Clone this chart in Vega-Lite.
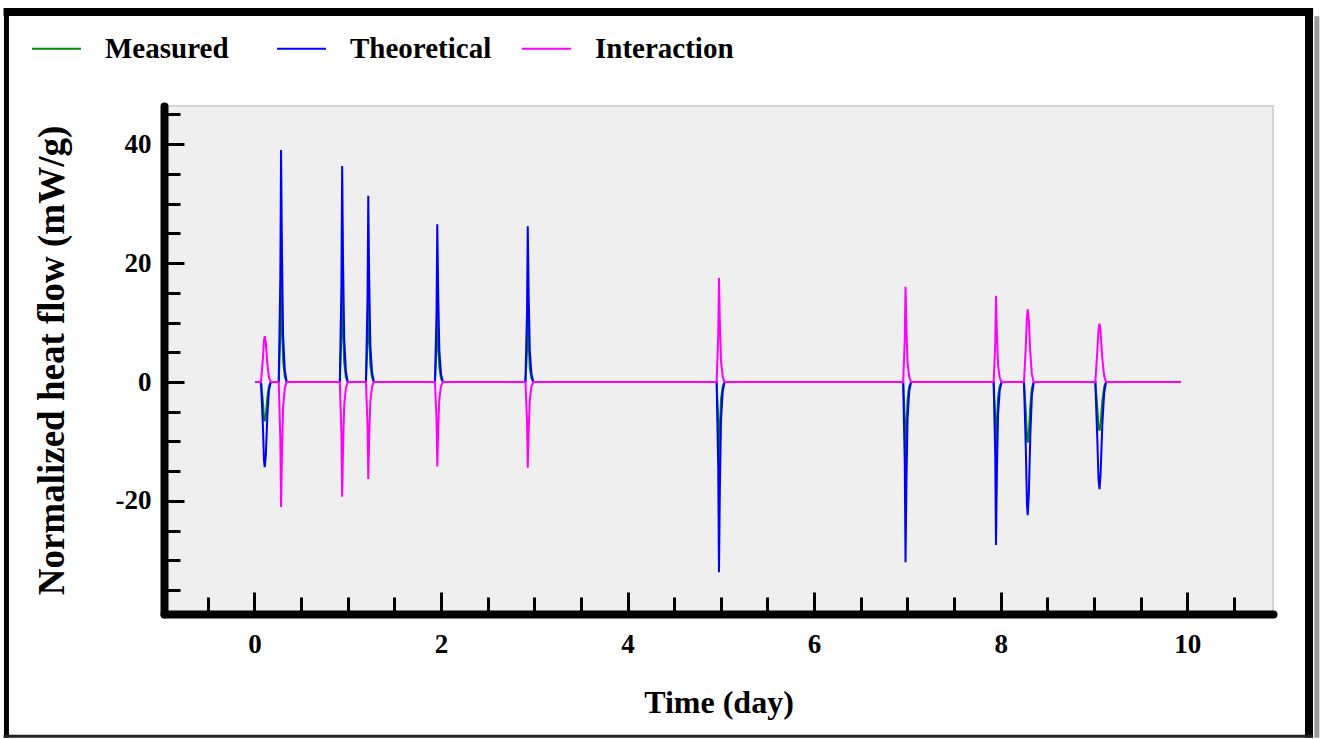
{
  "$schema": "https://vega.github.io/schema/vega-lite/v6.json",
  "width": 1109,
  "height": 508,
  "autosize": {"type": "none"},
  "padding": {"left": 164, "top": 106, "right": 49, "bottom": 125},
  "background": "white",
  "config": {
    "view": {"fill": "#efefef", "stroke": "#d4d4d4", "strokeWidth": 2},
    "font": "Liberation Serif"
  },
  "datasets": {
    "curves": [
      {"t": 0.01, "Measured": 0, "Theoretical": 0, "Interaction": 0},
      {"t": 0.07, "Measured": 0, "Theoretical": 0, "Interaction": 0},
      {"t": 0.09, "Measured": -3.3, "Theoretical": -7.2, "Interaction": 3.9},
      {"t": 0.102, "Measured": -6.1, "Theoretical": -13.2, "Interaction": 7.1},
      {"t": 0.11, "Measured": -6.6, "Theoretical": -14.3, "Interaction": 7.7},
      {"t": 0.122, "Measured": -5.6, "Theoretical": -12.2, "Interaction": 6.5},
      {"t": 0.138, "Measured": -2.6, "Theoretical": -5.7, "Interaction": 3.1},
      {"t": 0.155, "Measured": -0.7, "Theoretical": -1.4, "Interaction": 0.8},
      {"t": 0.175, "Measured": 0, "Theoretical": 0, "Interaction": 0},
      {"t": 0.26, "Measured": 0, "Theoretical": 0, "Interaction": 0},
      {"t": 0.277, "Measured": 8.1, "Theoretical": 17.6, "Interaction": -9.5},
      {"t": 0.285, "Measured": 18.0, "Theoretical": 39.0, "Interaction": -21.0},
      {"t": 0.295, "Measured": 9.9, "Theoretical": 21.5, "Interaction": -11.6},
      {"t": 0.307, "Measured": 3.6, "Theoretical": 7.8, "Interaction": -4.2},
      {"t": 0.325, "Measured": 0.9, "Theoretical": 2.0, "Interaction": -1.1},
      {"t": 0.345, "Measured": 0, "Theoretical": 0, "Interaction": 0},
      {"t": 0.915, "Measured": 0, "Theoretical": 0, "Interaction": 0},
      {"t": 0.932, "Measured": 7.6, "Theoretical": 16.3, "Interaction": -8.7},
      {"t": 0.94, "Measured": 17.0, "Theoretical": 36.3, "Interaction": -19.3},
      {"t": 0.95, "Measured": 9.4, "Theoretical": 20.0, "Interaction": -10.6},
      {"t": 0.962, "Measured": 3.4, "Theoretical": 7.3, "Interaction": -3.9},
      {"t": 0.98, "Measured": 0.8, "Theoretical": 1.8, "Interaction": -1.0},
      {"t": 1.0, "Measured": 0, "Theoretical": 0, "Interaction": 0},
      {"t": 1.195, "Measured": 0, "Theoretical": 0, "Interaction": 0},
      {"t": 1.212, "Measured": 6.8, "Theoretical": 14.1, "Interaction": -7.3},
      {"t": 1.22, "Measured": 15.0, "Theoretical": 31.3, "Interaction": -16.3},
      {"t": 1.23, "Measured": 8.2, "Theoretical": 17.2, "Interaction": -9.0},
      {"t": 1.242, "Measured": 3.0, "Theoretical": 6.3, "Interaction": -3.3},
      {"t": 1.26, "Measured": 0.8, "Theoretical": 1.6, "Interaction": -0.8},
      {"t": 1.28, "Measured": 0, "Theoretical": 0, "Interaction": 0},
      {"t": 1.935, "Measured": 0, "Theoretical": 0, "Interaction": 0},
      {"t": 1.952, "Measured": 5.5, "Theoretical": 11.9, "Interaction": -6.4},
      {"t": 1.96, "Measured": 12.3, "Theoretical": 26.5, "Interaction": -14.2},
      {"t": 1.97, "Measured": 6.8, "Theoretical": 14.6, "Interaction": -7.8},
      {"t": 1.982, "Measured": 2.5, "Theoretical": 5.3, "Interaction": -2.8},
      {"t": 2.0, "Measured": 0.6, "Theoretical": 1.3, "Interaction": -0.7},
      {"t": 2.02, "Measured": 0, "Theoretical": 0, "Interaction": 0},
      {"t": 2.905, "Measured": 0, "Theoretical": 0, "Interaction": 0},
      {"t": 2.922, "Measured": 5.3, "Theoretical": 11.8, "Interaction": -6.5},
      {"t": 2.93, "Measured": 11.8, "Theoretical": 26.2, "Interaction": -14.4},
      {"t": 2.94, "Measured": 6.5, "Theoretical": 14.4, "Interaction": -7.9},
      {"t": 2.952, "Measured": 2.3, "Theoretical": 5.2, "Interaction": -2.9},
      {"t": 2.97, "Measured": 0.6, "Theoretical": 1.3, "Interaction": -0.7},
      {"t": 2.99, "Measured": 0, "Theoretical": 0, "Interaction": 0},
      {"t": 4.955, "Measured": 0, "Theoretical": 0, "Interaction": 0},
      {"t": 4.972, "Measured": -6.5, "Theoretical": -14.4, "Interaction": 7.9},
      {"t": 4.98, "Measured": -14.5, "Theoretical": -32.0, "Interaction": 17.5},
      {"t": 4.99, "Measured": -8.0, "Theoretical": -17.6, "Interaction": 9.6},
      {"t": 5.002, "Measured": -2.9, "Theoretical": -6.4, "Interaction": 3.5},
      {"t": 5.02, "Measured": -0.7, "Theoretical": -1.6, "Interaction": 0.9},
      {"t": 5.04, "Measured": 0, "Theoretical": 0, "Interaction": 0},
      {"t": 6.955, "Measured": 0, "Theoretical": 0, "Interaction": 0},
      {"t": 6.972, "Measured": -6.4, "Theoretical": -13.6, "Interaction": 7.2},
      {"t": 6.98, "Measured": -14.3, "Theoretical": -30.3, "Interaction": 16.0},
      {"t": 6.99, "Measured": -7.9, "Theoretical": -16.7, "Interaction": 8.8},
      {"t": 7.002, "Measured": -2.9, "Theoretical": -6.1, "Interaction": 3.2},
      {"t": 7.02, "Measured": -0.7, "Theoretical": -1.5, "Interaction": 0.8},
      {"t": 7.04, "Measured": 0, "Theoretical": 0, "Interaction": 0},
      {"t": 7.925, "Measured": 0, "Theoretical": 0, "Interaction": 0},
      {"t": 7.942, "Measured": -5.8, "Theoretical": -12.3, "Interaction": 6.5},
      {"t": 7.95, "Measured": -12.9, "Theoretical": -27.4, "Interaction": 14.5},
      {"t": 7.96, "Measured": -7.1, "Theoretical": -15.1, "Interaction": 8.0},
      {"t": 7.972, "Measured": -2.6, "Theoretical": -5.5, "Interaction": 2.9},
      {"t": 7.99, "Measured": -0.7, "Theoretical": -1.4, "Interaction": 0.7},
      {"t": 8.01, "Measured": 0, "Theoretical": 0, "Interaction": 0},
      {"t": 8.25, "Measured": 0, "Theoretical": 0, "Interaction": 0},
      {"t": 8.27, "Measured": -5.1, "Theoretical": -11.2, "Interaction": 6.1},
      {"t": 8.282, "Measured": -9.4, "Theoretical": -20.6, "Interaction": 11.2},
      {"t": 8.29, "Measured": -10.2, "Theoretical": -22.4, "Interaction": 12.2},
      {"t": 8.302, "Measured": -8.6, "Theoretical": -19.0, "Interaction": 10.4},
      {"t": 8.318, "Measured": -4.1, "Theoretical": -9.0, "Interaction": 4.9},
      {"t": 8.335, "Measured": -1.0, "Theoretical": -2.2, "Interaction": 1.2},
      {"t": 8.355, "Measured": 0, "Theoretical": 0, "Interaction": 0},
      {"t": 9.015, "Measured": 0, "Theoretical": 0, "Interaction": 0},
      {"t": 9.035, "Measured": -4.1, "Theoretical": -9.0, "Interaction": 4.9},
      {"t": 9.05, "Measured": -7.6, "Theoretical": -16.6, "Interaction": 9.0},
      {"t": 9.06, "Measured": -8.2, "Theoretical": -18.0, "Interaction": 9.8},
      {"t": 9.072, "Measured": -7.0, "Theoretical": -15.3, "Interaction": 8.3},
      {"t": 9.09, "Measured": -3.3, "Theoretical": -7.2, "Interaction": 3.9},
      {"t": 9.11, "Measured": -0.8, "Theoretical": -1.8, "Interaction": 1.0},
      {"t": 9.13, "Measured": 0, "Theoretical": 0, "Interaction": 0},
      {"t": 9.93, "Measured": 0, "Theoretical": 0, "Interaction": 0}
    ]
  },
  "layer": [
    {
      "data": {"name": "curves"},
      "transform": [
        {"fold": ["Measured", "Theoretical", "Interaction"], "as": ["series", "value"]},
        {"filter": "datum.series === 'Measured'"}
      ],
      "mark": {"type": "line", "strokeWidth": 2},
      "encoding": {
        "x": {
          "field": "t", "type": "quantitative",
          "scale": {"domain": [-0.97, 10.92], "nice": false, "zero": false},
          "axis": {
            "title": "Time (day)",
            "values": [-0.5, 0, 0.5, 1, 1.5, 2, 2.5, 3, 3.5, 4, 4.5, 5, 5.5, 6, 6.5, 7, 7.5, 8, 8.5, 9, 9.5, 10, 10.5],
            "tickCount": 200,
            "labelExpr": "datum.value % 2 === 0 ? '' + datum.value : ''",
            "tickSize": {"condition": {"test": "datum.value % 2 === 0", "value": -22}, "value": -17},
            "tickWidth": 3,
            "tickColor": "black",
            "domainColor": "black",
            "domainWidth": 8,
            "domainCap": "round",
            "grid": false,
            "labelFont": "Liberation Serif",
            "labelFontWeight": "bold",
            "labelFontSize": 27,
            "labelColor": "black",
            "labelPadding": 39,
            "labelOverlap": false,
            "labelFlush": false,
            "labelBound": false,
            "titleFont": "Liberation Serif",
            "titleFontWeight": "bold",
            "titleFontSize": 32,
            "titleColor": "black",
            "titlePadding": 25
          }
        },
        "y": {
          "field": "value", "type": "quantitative",
          "scale": {"domain": [-39, 46.4], "nice": false, "zero": false},
          "axis": {
            "title": "Normalized heat flow (mW/g)",
            "values": [-35, -30, -25, -20, -15, -10, -5, 0, 5, 10, 15, 20, 25, 30, 35, 40, 45],
            "tickCount": 200,
            "labelExpr": "datum.value % 20 === 0 ? '' + datum.value : ''",
            "tickSize": {"condition": {"test": "datum.value % 20 === 0", "value": -20}, "value": -16},
            "tickWidth": 3,
            "tickColor": "black",
            "domainColor": "black",
            "domainWidth": 8,
            "domainCap": "round",
            "grid": false,
            "labelFont": "Liberation Serif",
            "labelFontWeight": "bold",
            "labelFontSize": 27,
            "labelColor": "black",
            "labelPadding": 33,
            "labelOverlap": false,
            "labelFlush": false,
            "labelBound": false,
            "titleFont": "Liberation Serif",
            "titleFontWeight": "bold",
            "titleFontSize": 37,
            "titleColor": "black",
            "titlePadding": 44
          }
        },
        "color": {
          "field": "series", "type": "nominal",
          "scale": {"domain": ["Measured", "Theoretical", "Interaction"], "range": ["#008a00", "#0000ff", "#ff00ff"]},
          "legend": {
            "orient": "none",
            "legendX": -133,
            "legendY": -83,
            "direction": "horizontal",
            "columns": 3,
            "gridAlign": "all",
            "title": null,
            "padding": 0,
            "symbolType": "stroke",
            "symbolSize": 2401,
            "symbolStrokeWidth": 2,
            "labelOffset": 23,
            "columnPadding": 26,
            "labelFont": "Liberation Serif",
            "labelFontWeight": "bold",
            "labelFontSize": 29,
            "labelColor": "black",
            "labelLimit": 400
          }
        }
      }
    },
    {
      "data": {"name": "curves"},
      "transform": [
        {"fold": ["Measured", "Theoretical", "Interaction"], "as": ["series", "value"]},
        {"filter": "datum.series === 'Theoretical'"}
      ],
      "mark": {"type": "line", "strokeWidth": 2},
      "encoding": {
        "x": {"field": "t", "type": "quantitative", "scale": {"domain": [-0.97, 10.92], "nice": false, "zero": false}},
        "y": {"field": "value", "type": "quantitative", "scale": {"domain": [-39, 46.4], "nice": false, "zero": false}},
        "color": {"field": "series", "type": "nominal", "scale": {"domain": ["Measured", "Theoretical", "Interaction"], "range": ["#008a00", "#0000ff", "#ff00ff"]}}
      }
    },
    {
      "data": {"name": "curves"},
      "transform": [
        {"fold": ["Measured", "Theoretical", "Interaction"], "as": ["series", "value"]},
        {"filter": "datum.series === 'Interaction'"}
      ],
      "mark": {"type": "line", "strokeWidth": 2},
      "encoding": {
        "x": {"field": "t", "type": "quantitative", "scale": {"domain": [-0.97, 10.92], "nice": false, "zero": false}},
        "y": {"field": "value", "type": "quantitative", "scale": {"domain": [-39, 46.4], "nice": false, "zero": false}},
        "color": {"field": "series", "type": "nominal", "scale": {"domain": ["Measured", "Theoretical", "Interaction"], "range": ["#008a00", "#0000ff", "#ff00ff"]}}
      }
    },
    {
      "data": {"values": [{}]},
      "mark": {"type": "rule", "color": "black", "strokeWidth": 8, "clip": false},
      "encoding": {
        "x": {"datum": -2.69, "type": "quantitative"},
        "x2": {"datum": 11.35},
        "y": {"datum": 62.2, "type": "quantitative"}
      }
    },
    {
      "data": {"values": [{}]},
      "mark": {"type": "rule", "color": "#9a9a9a", "strokeWidth": 5, "clip": false},
      "encoding": {
        "x": {"datum": 11.39, "type": "quantitative"},
        "y": {"datum": 61.5, "type": "quantitative"},
        "y2": {"datum": -59.8}
      }
    },
    {
      "data": {"values": [{}]},
      "mark": {"type": "rule", "color": "black", "strokeWidth": 8, "clip": false},
      "encoding": {
        "x": {"datum": 11.306, "type": "quantitative"},
        "y": {"datum": 62.8, "type": "quantitative"},
        "y2": {"datum": -59.8}
      }
    },
    {
      "data": {"values": [{}]},
      "mark": {"type": "rule", "color": "black", "strokeWidth": 5, "clip": false},
      "encoding": {
        "x": {"datum": -2.659, "type": "quantitative"},
        "y": {"datum": 62.8, "type": "quantitative"},
        "y2": {"datum": -59.8}
      }
    },
    {
      "data": {"values": [{}]},
      "mark": {"type": "rule", "color": "#222222", "strokeWidth": 3, "clip": false},
      "encoding": {
        "x": {"datum": -2.69, "type": "quantitative"},
        "x2": {"datum": 11.35},
        "y": {"datum": -59.57, "type": "quantitative"}
      }
    }
  ]
}
